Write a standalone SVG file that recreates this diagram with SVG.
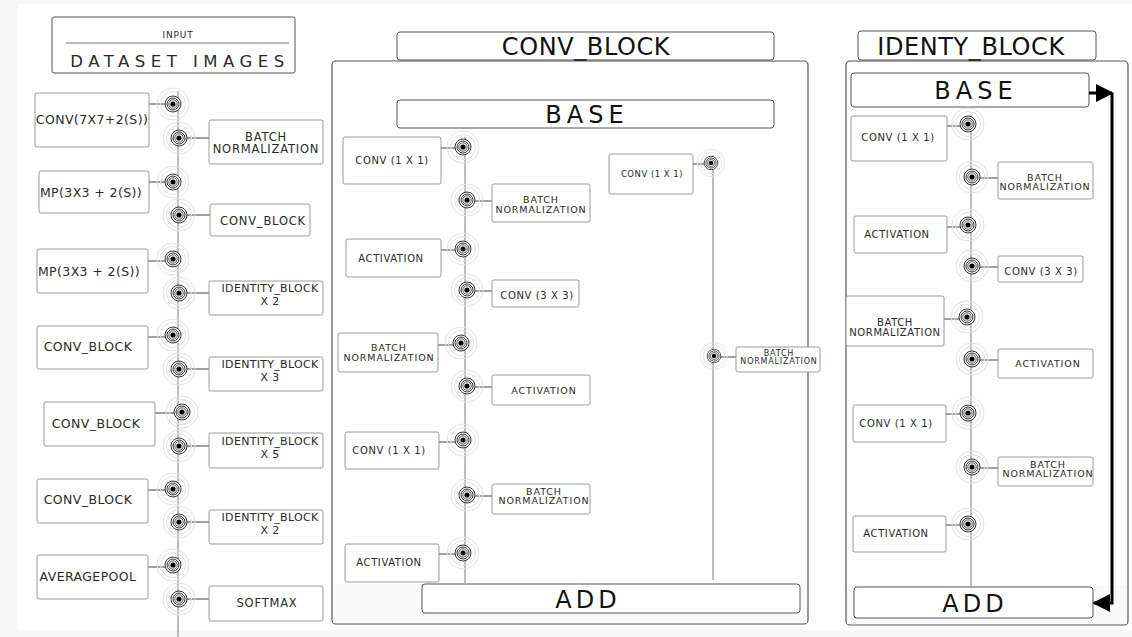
<svg xmlns="http://www.w3.org/2000/svg" xmlns:xlink="http://www.w3.org/1999/xlink" width="1132" height="637" viewBox="0 0 1132 637">
<style>
.bg{fill:#f7f7f7}
.box{fill:#fff;stroke:#9a9a9a;stroke-width:1}
.tbox{fill:#fff;stroke:#555;stroke-width:1}
.panel{fill:#fff;stroke:#555;stroke-width:1.2}
.t{font-family:"DejaVu Sans",sans-serif;fill:#2a2a2a;text-anchor:middle}
.s12{font-size:12.5px;letter-spacing:0.4px}
.s11{font-size:11.5px;letter-spacing:0.8px}
.s11b{font-size:11px;letter-spacing:0.3px}
.s10{font-size:10px;letter-spacing:0.6px}
.s9{font-size:9.5px;letter-spacing:0.9px}
.s8{font-size:8px;letter-spacing:0.8px}
.big{font-family:"DejaVu Sans",sans-serif;fill:#111;text-anchor:middle;font-size:24px}
.spine{stroke:#a8a8a8;stroke-width:1.5;fill:none}
.link{stroke:#444;stroke-width:1}
.tip{fill:#222}
.ring{fill:none;stroke:#e2e2e2;stroke-width:1}
.thick{stroke:#000;stroke-width:3;fill:none}
</style>
<defs>
<g id="tg">
<circle class="ring" r="16"/>
<circle class="ring" r="12.5"/>
<circle r="8" fill="#fff" stroke="#333" stroke-width="1"/>
<circle r="6" fill="none" stroke="#333" stroke-width="1"/>
<circle r="4.2" fill="none" stroke="#555" stroke-width="1"/>
<circle r="2.6" fill="#000"/>
</g>
<marker id="ah" viewBox="0 0 10 10" refX="9" refY="5" markerWidth="6" markerHeight="7" markerUnits="strokeWidth" orient="auto">
<path d="M0,0 L10,5 L0,10 z" fill="#000"/>
</marker>
</defs>

<rect class="bg" x="0" y="0" width="1132" height="637"/>
<rect x="18" y="4" width="1114" height="626" fill="#fff"/>

<!-- Left column -->
<g id="input">
<rect class="tbox" x="52" y="17" width="243" height="56" rx="2"/>
<line x1="66" y1="43" x2="289" y2="43" stroke="#777" stroke-width="1"/>
<text class="t" x="178" y="38" font-size="9px" letter-spacing="0.8">INPUT</text>
<text class="t" x="180" y="67" font-size="16.5px" letter-spacing="5.5" fill="#111">DATASET IMAGES</text>
</g>

<g id="connectors">
<line class="spine" x1="178" y1="91" x2="178" y2="637"/>
<line class="link" x1="133" y1="104" x2="173" y2="104"/><circle class="tip" cx="133" cy="104" r="1.3"/>
<line class="link" x1="179" y1="138" x2="217" y2="138"/><circle class="tip" cx="217" cy="138" r="1.3"/>
<line class="link" x1="133" y1="182" x2="173" y2="182"/><circle class="tip" cx="133" cy="182" r="1.3"/>
<line class="link" x1="179" y1="215" x2="217" y2="215"/><circle class="tip" cx="217" cy="215" r="1.3"/>
<line class="link" x1="133" y1="261" x2="173" y2="261"/><circle class="tip" cx="133" cy="261" r="1.3"/>
<line class="link" x1="179" y1="293" x2="217" y2="293"/><circle class="tip" cx="217" cy="293" r="1.3"/>
<line class="link" x1="133" y1="337" x2="173" y2="337"/><circle class="tip" cx="133" cy="337" r="1.3"/>
<line class="link" x1="179" y1="369" x2="217" y2="369"/><circle class="tip" cx="217" cy="369" r="1.3"/>
<line class="link" x1="140" y1="413" x2="182" y2="413"/><circle class="tip" cx="140" cy="413" r="1.3"/>
<line class="link" x1="179" y1="446" x2="217" y2="446"/><circle class="tip" cx="217" cy="446" r="1.3"/>
<line class="link" x1="133" y1="490" x2="173" y2="490"/><circle class="tip" cx="133" cy="490" r="1.3"/>
<line class="link" x1="179" y1="522" x2="217" y2="522"/><circle class="tip" cx="217" cy="522" r="1.3"/>
<line class="link" x1="133" y1="567" x2="173" y2="567"/><circle class="tip" cx="133" cy="567" r="1.3"/>
<line class="link" x1="179" y1="599" x2="217" y2="599"/><circle class="tip" cx="217" cy="599" r="1.3"/>
<use xlink:href="#tg" x="173" y="104"/>
<use xlink:href="#tg" x="179" y="138"/>
<use xlink:href="#tg" x="173" y="182"/>
<use xlink:href="#tg" x="179" y="215"/>
<use xlink:href="#tg" x="173" y="259"/>
<use xlink:href="#tg" x="179" y="293"/>
<use xlink:href="#tg" x="173" y="335"/>
<use xlink:href="#tg" x="179" y="369"/>
<use xlink:href="#tg" x="182" y="412"/>
<use xlink:href="#tg" x="179" y="446"/>
<use xlink:href="#tg" x="173" y="489"/>
<use xlink:href="#tg" x="179" y="522"/>
<use xlink:href="#tg" x="173" y="565"/>
<use xlink:href="#tg" x="179" y="599"/>
</g>

<g id="n-conv7"><rect class="box" x="35" y="93" width="114" height="54" rx="2"/><text class="t s12" x="92" y="124">CONV(7X7+2(S))</text></g>
<g id="n-bn1"><rect class="box" x="209" y="120" width="114" height="44" rx="2"/><text class="t s11" x="266" y="141">BATCH</text><text class="t s11" x="266" y="153">NORMALIZATION</text></g>
<g id="n-mp1"><rect class="box" x="39" y="171" width="110" height="42" rx="2"/><text class="t s12" x="91" y="197">MP(3X3 + 2(S))</text></g>
<g id="n-cb1"><rect class="box" x="210" y="204" width="100" height="32" rx="2"/><text class="t s11" x="263" y="225">CONV_BLOCK</text></g>
<g id="n-mp2"><rect class="box" x="37" y="249" width="111" height="44" rx="2"/><text class="t s12" x="89" y="276">MP(3X3 + 2(S))</text></g>
<g id="n-id2a"><rect class="box" x="209" y="281" width="114" height="34" rx="2"/><text class="t s11b" x="270" y="292">IDENTITY_BLOCK</text><text class="t s11b" x="270" y="305">X 2</text></g>
<g id="n-cb2"><rect class="box" x="37" y="326" width="111" height="43" rx="2"/><text class="t s12" x="88" y="351">CONV_BLOCK</text></g>
<g id="n-id3"><rect class="box" x="209" y="357" width="114" height="34" rx="2"/><text class="t s11b" x="270" y="368">IDENTITY_BLOCK</text><text class="t s11b" x="270" y="381">X 3</text></g>
<g id="n-cb3"><rect class="box" x="44" y="402" width="111" height="44" rx="2"/><text class="t s12" x="96" y="428">CONV_BLOCK</text></g>
<g id="n-id5"><rect class="box" x="209" y="433" width="114" height="35" rx="2"/><text class="t s11b" x="270" y="445">IDENTITY_BLOCK</text><text class="t s11b" x="270" y="458">X 5</text></g>
<g id="n-cb4"><rect class="box" x="37" y="479" width="111" height="44" rx="2"/><text class="t s12" x="88" y="504">CONV_BLOCK</text></g>
<g id="n-id2b"><rect class="box" x="209" y="510" width="114" height="34" rx="2"/><text class="t s11b" x="270" y="521">IDENTITY_BLOCK</text><text class="t s11b" x="270" y="534">X 2</text></g>
<g id="n-avg"><rect class="box" x="37" y="555" width="111" height="44" rx="2"/><text class="t s12" x="88" y="581">AVERAGEPOOL</text></g>
<g id="n-soft"><rect class="box" x="209" y="586" width="114" height="35" rx="2"/><text class="t s11" x="267" y="607">SOFTMAX</text></g>

<!-- CONV_BLOCK panel -->
<g id="conv-block">
<rect class="tbox" x="397" y="32" width="377" height="28" rx="3"/>
<text class="big" x="586" y="55" letter-spacing="0.6">CONV_BLOCK</text>
<rect class="panel" x="332" y="61" width="476" height="563" rx="4"/>
<rect x="333" y="584" width="474" height="39" fill="#f9f9f9"/>
</g>
<g id="cb-base"><rect class="tbox" x="397" y="100" width="377" height="28" rx="3"/><text class="big" x="587" y="123" letter-spacing="5">BASE</text></g>
<g id="cb-add"><rect class="tbox" x="422" y="584" width="378" height="29" rx="3"/><text class="big" x="588" y="608" font-size="25px" letter-spacing="4">ADD</text></g>

<g id="cb-connectors">
<line class="spine" x1="465" y1="137" x2="465" y2="584"/>
<line class="spine" x1="713" y1="155" x2="713" y2="580"/>
<line class="link" x1="427" y1="148" x2="463" y2="148"/><circle class="tip" cx="427" cy="148" r="1.2"/>
<line class="link" x1="467" y1="201" x2="500" y2="201"/><circle class="tip" cx="500" cy="201" r="1.2"/>
<line class="link" x1="427" y1="250" x2="463" y2="250"/><circle class="tip" cx="427" cy="250" r="1.2"/>
<line class="link" x1="467" y1="291" x2="500" y2="291"/><circle class="tip" cx="500" cy="291" r="1.2"/>
<line class="link" x1="426" y1="345" x2="461" y2="345"/><circle class="tip" cx="426" cy="345" r="1.2"/>
<line class="link" x1="467" y1="387" x2="500" y2="387"/><circle class="tip" cx="500" cy="387" r="1.2"/>
<line class="link" x1="427" y1="442" x2="463" y2="442"/><circle class="tip" cx="427" cy="442" r="1.2"/>
<line class="link" x1="467" y1="496" x2="500" y2="496"/><circle class="tip" cx="500" cy="496" r="1.2"/>
<line class="link" x1="427" y1="554" x2="463" y2="554"/><circle class="tip" cx="427" cy="554" r="1.2"/>
<line class="link" x1="681" y1="164" x2="711" y2="164"/><circle class="tip" cx="681" cy="164" r="1.2"/>
<line class="link" x1="714" y1="357" x2="743" y2="357"/><circle class="tip" cx="743" cy="357" r="1.2"/>
<use xlink:href="#tg" x="463" y="147"/>
<use xlink:href="#tg" x="467" y="200"/>
<use xlink:href="#tg" x="463" y="249"/>
<use xlink:href="#tg" x="467" y="290"/>
<use xlink:href="#tg" x="461" y="343"/>
<use xlink:href="#tg" x="467" y="386"/>
<use xlink:href="#tg" x="463" y="440"/>
<use xlink:href="#tg" x="467" y="495"/>
<use xlink:href="#tg" x="463" y="553"/>
<use xlink:href="#tg" x="711" y="163" transform="translate(711 163) scale(0.85) translate(-711 -163)"/>
<use xlink:href="#tg" x="714" y="356" transform="translate(714 356) scale(0.85) translate(-714 -356)"/>
</g>

<g id="cb-conv1"><rect class="box" x="343" y="137" width="98" height="47" rx="2"/><text class="t s10" x="392" y="164">CONV (1 X 1)</text></g>
<g id="cb-bn1"><rect class="box" x="492" y="184" width="98" height="38" rx="2"/><text class="t s9" x="541" y="203">BATCH</text><text class="t s9" x="541" y="213">NORMALIZATION</text></g>
<g id="cb-act1"><rect class="box" x="346" y="239" width="95" height="38" rx="2"/><text class="t s10" x="391" y="262">ACTIVATION</text></g>
<g id="cb-conv3"><rect class="box" x="492" y="280" width="87" height="27" rx="2"/><text class="t s10" x="537" y="299">CONV (3 X 3)</text></g>
<g id="cb-bn2"><rect class="box" x="338" y="333" width="100" height="39" rx="2"/><text class="t s9" x="389" y="351">BATCH</text><text class="t s9" x="389" y="361">NORMALIZATION</text></g>
<g id="cb-act2"><rect class="box" x="492" y="375" width="98" height="30" rx="2"/><text class="t s9" x="544" y="394">ACTIVATION</text></g>
<g id="cb-conv1b"><rect class="box" x="345" y="432" width="94" height="37" rx="2"/><text class="t s10" x="389" y="454">CONV (1 X 1)</text></g>
<g id="cb-bn3"><rect class="box" x="492" y="484" width="98" height="30" rx="2"/><text class="t s9" x="544" y="495">BATCH</text><text class="t s9" x="544" y="504">NORMALIZATION</text></g>
<g id="cb-act3"><rect class="box" x="345" y="544" width="94" height="38" rx="2"/><text class="t s10" x="389" y="566">ACTIVATION</text></g>
<g id="cb-sc-conv"><rect class="box" x="609" y="154" width="84" height="40" rx="2"/><text class="t" font-size="8.5px" letter-spacing="0.5" x="652" y="177">CONV (1 X 1)</text></g>
<g id="cb-sc-bn"><rect class="box" x="736" y="347" width="84" height="25" rx="2"/><text class="t s8" x="779" y="356">BATCH</text><text class="t s8" x="779" y="364">NORMALIZATION</text></g>

<!-- IDENTY_BLOCK panel -->
<g id="identity-block">
<rect class="tbox" x="858" y="31" width="238" height="29" rx="3"/>
<text class="big" x="971" y="55" letter-spacing="0.6">IDENTY_BLOCK</text>
<rect class="panel" x="846" y="61" width="282" height="564" rx="4"/>
<rect x="847" y="585" width="280" height="39" fill="#f9f9f9"/>
</g>
<g id="ib-base"><rect class="tbox" x="851" y="73" width="238" height="34" rx="3"/><text class="big" x="976" y="99" letter-spacing="5">BASE</text></g>
<g id="ib-add"><rect class="tbox" x="854" y="587" width="239" height="31" rx="3"/><text class="big" x="975" y="612" font-size="25px" letter-spacing="4">ADD</text></g>

<g id="ib-connectors">
<line class="spine" x1="971" y1="115" x2="971" y2="586"/>
<path class="thick" d="M1089,93 H1112" marker-end="url(#ah)"/>
<path class="thick" d="M1112,93 V603 H1094" marker-end="url(#ah)"/>
<line class="link" x1="933" y1="126" x2="968" y2="126"/><circle class="tip" cx="933" cy="126" r="1.2"/>
<line class="link" x1="972" y1="178" x2="1005" y2="178"/><circle class="tip" cx="1005" cy="178" r="1.2"/>
<line class="link" x1="933" y1="227" x2="968" y2="227"/><circle class="tip" cx="933" cy="227" r="1.2"/>
<line class="link" x1="972" y1="267" x2="1004" y2="267"/><circle class="tip" cx="1004" cy="267" r="1.2"/>
<line class="link" x1="932" y1="319" x2="967" y2="319"/><circle class="tip" cx="932" cy="319" r="1.2"/>
<line class="link" x1="972" y1="360" x2="1005" y2="360"/><circle class="tip" cx="1005" cy="360" r="1.2"/>
<line class="link" x1="933" y1="414" x2="968" y2="414"/><circle class="tip" cx="933" cy="414" r="1.2"/>
<line class="link" x1="972" y1="468" x2="1005" y2="468"/><circle class="tip" cx="1005" cy="468" r="1.2"/>
<line class="link" x1="933" y1="525" x2="968" y2="525"/><circle class="tip" cx="933" cy="525" r="1.2"/>
<use xlink:href="#tg" x="968" y="124"/>
<use xlink:href="#tg" x="972" y="177"/>
<use xlink:href="#tg" x="968" y="225"/>
<use xlink:href="#tg" x="972" y="266"/>
<use xlink:href="#tg" x="967" y="317"/>
<use xlink:href="#tg" x="972" y="359"/>
<use xlink:href="#tg" x="968" y="413"/>
<use xlink:href="#tg" x="972" y="467"/>
<use xlink:href="#tg" x="968" y="524"/>
</g>

<g id="ib-conv1"><rect class="box" x="851" y="116" width="96" height="45" rx="2"/><text class="t s10" x="898" y="141">CONV (1 X 1)</text></g>
<g id="ib-bn1"><rect class="box" x="998" y="162" width="95" height="37" rx="2"/><text class="t s9" x="1045" y="181">BATCH</text><text class="t s9" x="1045" y="190">NORMALIZATION</text></g>
<g id="ib-act1"><rect class="box" x="854" y="216" width="93" height="37" rx="2"/><text class="t s10" x="897" y="238">ACTIVATION</text></g>
<g id="ib-conv3"><rect class="box" x="998" y="256" width="85" height="26" rx="2"/><text class="t s10" x="1041" y="275">CONV (3 X 3)</text></g>
<g id="ib-bn2"><rect class="box" x="846" y="296" width="98" height="50" rx="2"/><text class="t s10" x="895" y="326">BATCH</text><text class="t s10" x="895" y="336">NORMALIZATION</text></g>
<g id="ib-act2"><rect class="box" x="998" y="349" width="95" height="29" rx="2"/><text class="t s9" x="1048" y="367">ACTIVATION</text></g>
<g id="ib-conv1b"><rect class="box" x="853" y="405" width="93" height="37" rx="2"/><text class="t s10" x="896" y="427">CONV (1 X 1)</text></g>
<g id="ib-bn3"><rect class="box" x="998" y="457" width="95" height="29" rx="2"/><text class="t s9" x="1048" y="468">BATCH</text><text class="t s9" x="1048" y="477">NORMALIZATION</text></g>
<g id="ib-act3"><rect class="box" x="853" y="516" width="93" height="36" rx="2"/><text class="t s10" x="896" y="537">ACTIVATION</text></g>
</svg>
